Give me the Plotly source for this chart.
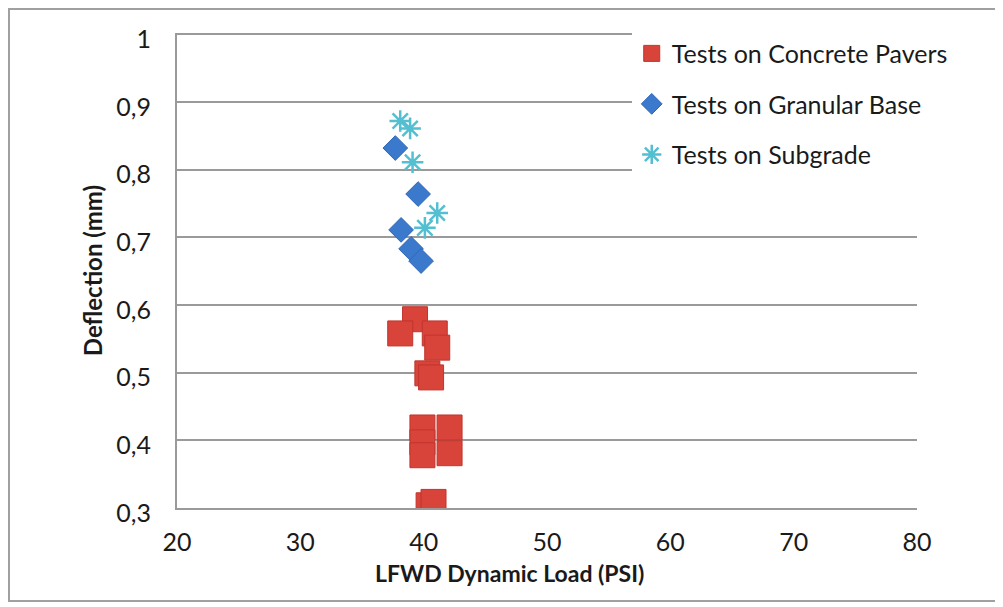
import plotly.graph_objects as go

# data
paver_load = [39.3, 38.1, 40.9, 41.1, 40.3, 40.6, 39.9, 39.9, 39.9, 42.1, 42.1, 40.4, 40.8]
paver_defl = [0.579, 0.558, 0.558, 0.537, 0.499, 0.493, 0.419, 0.397, 0.378, 0.419, 0.381, 0.304, 0.309]

base_load = [37.7, 39.55, 38.17, 38.98, 39.79]
base_defl = [0.832, 0.764, 0.711, 0.683, 0.665]

subgrade_load = [38.1, 38.9, 39.1, 41.1, 40.1]
subgrade_defl = [0.872, 0.861, 0.811, 0.736, 0.714]

y_ticks = [0.3, 0.4, 0.5, 0.6, 0.7, 0.8, 0.9, 1.0]
y_labels = ["0,3", "0,4", "0,5", "0,6", "0,7", "0,8", "0,9", "1"]
x_ticks = [20, 30, 40, 50, 60, 70, 80]

FONT = "Lato, Open Sans, sans-serif"
STAR = "#55bfd2"

fig = go.Figure()

fig.add_trace(go.Scatter(
    x=paver_load, y=paver_defl, mode="markers",
    name="Tests on Concrete Pavers", legendgroup="a",
    marker=dict(symbol="square", size=25, color="#d8433a",
                line=dict(color="#c2352d", width=1)),
))
fig.add_trace(go.Scatter(
    x=base_load, y=base_defl, mode="markers",
    name="Tests on Granular Base", legendgroup="b",
    marker=dict(symbol="diamond", size=19, color="#3b79cc",
                line=dict(color="#3068b5", width=1)),
))
fig.add_trace(go.Scatter(
    x=subgrade_load, y=subgrade_defl, mode="markers",
    name="Tests on Subgrade", legendgroup="c",
    marker=dict(symbol="asterisk-open", size=18, color=STAR,
                line=dict(color=STAR, width=2.5)),
))

# page body adds 8px, so the figure is a bit smaller than the window
fig.update_layout(
    width=995, height=599,
    margin=dict(l=169, r=86, t=25, b=99, autoexpand=False),
    paper_bgcolor="white", plot_bgcolor="white",
    font=dict(family=FONT, size=25, color="#1a1a1a"),
    showlegend=True,
    legend=dict(
        x=0.6145, y=1.005, xanchor="left", yanchor="top",
        bgcolor="white", tracegroupgap=15,
        font=dict(family=FONT, size=25, color="#1a1a1a"),
    ),
)

fig.update_xaxes(
    range=[20, 80], tickvals=x_ticks, showgrid=False,
    showline=True, linecolor="#9a9a9a", linewidth=2,
    ticks="", ticklabelstandoff=11, zeroline=False, automargin=False,
)
fig.update_yaxes(
    range=[0.3, 1.002], tickvals=y_ticks, ticktext=y_labels,
    showgrid=True, gridcolor="#9a9a9a", gridwidth=2,
    showline=True, linecolor="#9a9a9a", linewidth=2,
    ticks="", ticklabelstandoff=19, ticklabelshift=5,
    zeroline=False, automargin=False,
)

# axis titles placed like the original
fig.add_annotation(
    text="<b>LFWD Dynamic Load (PSI)</b>", xref="paper", yref="paper",
    x=0.449, y=-0.137, xanchor="center", yanchor="middle",
    showarrow=False, font=dict(size=23),
)
fig.add_annotation(
    text="<b>Deflection (mm)</b>", xref="paper", yref="paper",
    x=-0.114, y=0.5, xanchor="center", yanchor="middle", textangle=-90,
    showarrow=False, font=dict(size=24),
)

# outer frame of the chart
fig.add_shape(
    type="rect", xref="paper", yref="paper",
    x0=(1 - 169) / 740, x1=(1000 - 169) / 740,
    y0=(500 - 593) / 475, y1=(500 - 1) / 475,
    line=dict(color="#a0a0a0", width=2), layer="below",
)

fig.write_html("out.html")
